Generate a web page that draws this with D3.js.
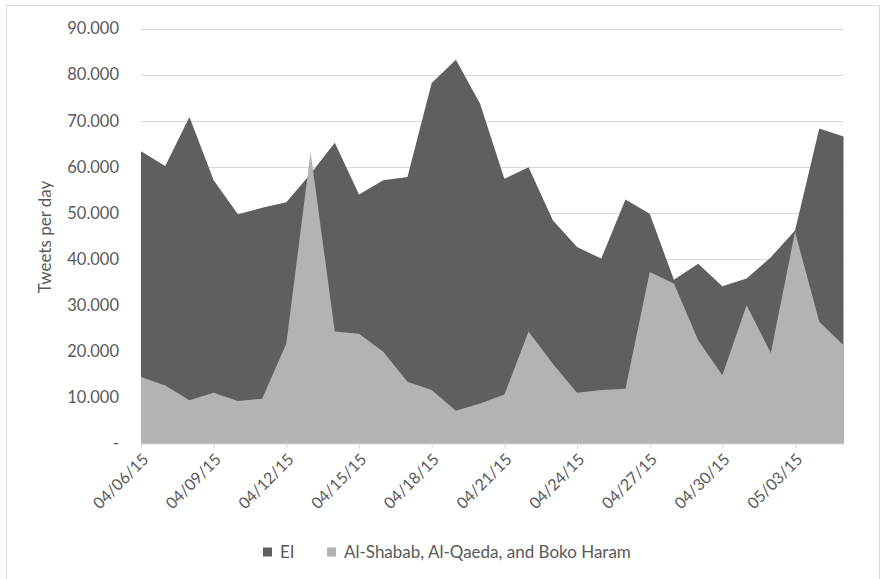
<!DOCTYPE html>
<html>
<head>
<meta charset="utf-8">
<script src="https://cdn.jsdelivr.net/npm/d3@7"></script>
<style>
  html, body { margin: 0; padding: 0; background: #ffffff; }
  svg { display: block; }
  text { font-family: Lato, "Open Sans", sans-serif; fill: #595959; }
</style>
</head>
<body>
<svg id="chart" width="881" height="579"></svg>
<script>
// Daily tweet counts, 6 April – 5 May 2015
const startDate = "2015-04-06";
const dayCount = 30;
const seriesNames = ["EI", "Al-Shabab, Al-Qaeda, and Boko Haram"];
const eiValues = [
  63400, 60200, 70800, 57100, 49700, 51100, 52300, 58500, 65200, 54000,
  57100, 57800, 78200, 83200, 73700, 57400, 59900, 48400, 42600, 40100,
  52900, 49800, 35500, 39000, 34100, 35800, 40400, 46200, 68300, 66600
];
const otherValues = [
  14400, 12600, 9400, 11000, 9200, 9700, 21700, 63200, 24300, 23800,
  19900, 13400, 11600, 7100, 8700, 10600, 24300, 17300, 11000, 11600,
  11900, 37200, 34700, 22400, 14800, 30000, 19600, 45900, 26400, 21300
];
const yTicks = [0, 10000, 20000, 30000, 40000, 50000, 60000, 70000, 80000, 90000];
const xTickEvery = 3;
const colors = ["#5f5f5f", "#b3b3b3"];

const parse = d3.utcParse("%Y-%m-%d");
const start = parse(startDate);
const dates = d3.range(dayCount).map(i => d3.utcDay.offset(start, i));

const svg = d3.select("#chart");
const plot = { left: 141, right: 843.5, top: 28.5, bottom: 443.5 };

// chart frame
svg.append("rect")
  .attr("x", 6.5).attr("y", 5.5)
  .attr("width", 873).attr("height", 580)
  .attr("fill", "none").attr("stroke", "#d9d9d9").attr("stroke-width", 1);

const x = d3.scaleUtc()
  .domain([dates[0], dates[dates.length - 1]])
  .range([plot.left, plot.right]);
const y = d3.scaleLinear()
  .domain([0, 90000])
  .range([plot.bottom, plot.top]);

const locale = d3.formatLocale({ decimal: ",", thousands: ".", grouping: [3], currency: ["", ""] });
const fmt = locale.format(",.0f");

// horizontal gridlines
svg.append("g")
  .selectAll("line")
  .data(yTicks.filter(v => v > 0))
  .join("line")
  .attr("x1", plot.left).attr("x2", plot.right)
  .attr("y1", d => Math.round(y(d)) + 0.5).attr("y2", d => Math.round(y(d)) + 0.5)
  .attr("stroke", "#d9d9d9").attr("stroke-width", 1);

// overlapping areas: EI first, the other groups on top
const rows = dates.map((d, i) => ({ date: d, ei: eiValues[i], other: otherValues[i] }));
const areaFor = key => d3.area()
  .x(d => x(d.date))
  .y0(y(0))
  .y1(d => y(d[key]));

svg.append("path").datum(rows)
  .attr("d", areaFor("ei"))
  .attr("fill", colors[0]);
svg.append("path").datum(rows)
  .attr("d", areaFor("other"))
  .attr("fill", colors[1]);

// y axis labels
const yAxis = d3.axisLeft(y)
  .tickValues(yTicks)
  .tickSize(0)
  .tickPadding(0)
  .tickFormat(v => v === 0 ? "-" : fmt(v));
const gy = svg.append("g")
  .attr("transform", `translate(${plot.left - 22},0)`)
  .call(yAxis);
gy.select(".domain").remove();
gy.selectAll("text")
  .attr("font-size", 16.5)
  .style("font-family", "Lato, sans-serif")
  .attr("fill", "#595959");

// x axis
const xAxis = d3.axisBottom(x)
  .tickValues(dates.filter((d, i) => i % xTickEvery === 0))
  .tickSize(5)
  .tickPadding(4)
  .tickFormat(d3.utcFormat("%m/%d/%y"));
const gx = svg.append("g")
  .attr("transform", `translate(0,${plot.bottom})`)
  .call(xAxis);
gx.select(".domain")
  .attr("d", `M${plot.left},0.5H${plot.right}`)
  .attr("stroke", "#d9d9d9");
gx.selectAll(".tick line").attr("stroke", "#d9d9d9").attr("y1", 0);
gx.selectAll("text")
  .attr("font-size", 16)
  .style("font-family", "Lato, sans-serif")
  .attr("fill", "#595959")
  .attr("text-anchor", "end")
  .attr("dy", "0.35em")
  .attr("transform", "translate(4,13) rotate(-45)")
  .attr("y", 0).attr("x", 0);

// y axis title
svg.append("text")
  .attr("transform", `translate(51,237) rotate(-90)`)
  .attr("text-anchor", "middle")
  .attr("font-size", 17)
  .text("Tweets per day");

// legend
const legend = svg.append("g").attr("transform", "translate(0,552)");
const items = [
  { name: seriesNames[0], color: colors[0], x: 263 },
  { name: seriesNames[1], color: colors[1], x: 327 }
];
items.forEach(it => {
  legend.append("rect")
    .attr("x", it.x).attr("y", -4.5)
    .attr("width", 9).attr("height", 9)
    .attr("fill", it.color);
  legend.append("text")
    .attr("x", it.x + 17).attr("y", 0)
    .attr("dy", "0.35em")
    .attr("font-size", 17)
    .text(it.name);
});
</script>
</body>
</html>
